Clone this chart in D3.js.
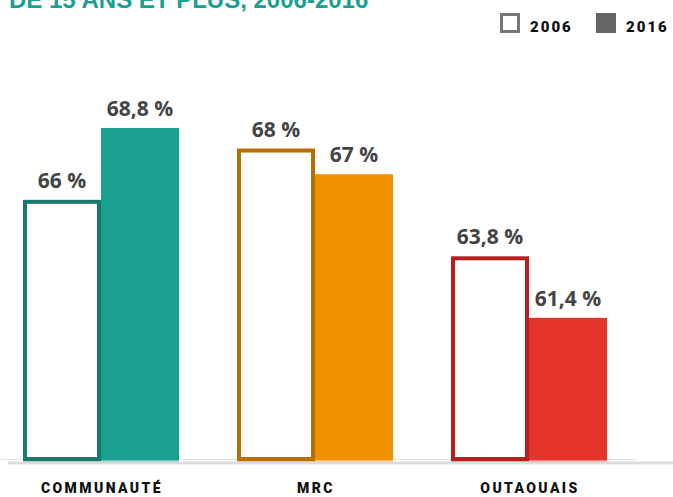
<!DOCTYPE html>
<html>
<head>
<meta charset="utf-8">
<script src="https://cdn.jsdelivr.net/npm/d3@7"></script>
<style>
	body { margin: 0; background: #fff; }
	svg { display: block; }
	.title { font-family: 'Liberation Sans', Arial, sans-serif; font-weight: bold; fill: #1aa090; }
	.value { font-family: 'Open Sans', sans-serif; font-weight: bold; fill: #444; }
	.category, .legend-text { font-family: Roboto, sans-serif; font-weight: 900; fill: #111; }
</style>
</head>
<body>
<svg id="chart" width="673" height="497"></svg>
<script>
// data
const categories = ['COMMUNAUTÉ', 'MRC', 'OUTAOUAIS'];
const years = ['2006', '2016'];
const values2006 = [66, 68, 63.8];
const values2016 = [68.8, 67, 61.4];
const valueLabels2006 = ['66 %', '68 %', '63,8 %'];
const valueLabels2016 = ['68,8 %', '67 %', '61,4 %'];
const fillColours = ['#1aa090', '#f09100', '#e5352b'];
const strokeColours = ['#177a6c', '#b86e00', '#b71f1f'];
const titleText = 'DE 15 ANS ET PLUS, 2006-2016';

const svg = d3.select('#chart');
const baseline = 459;

let rows = categories.map(function(category, i) {
	return {
		category: category,
		fill: fillColours[i],
		stroke: strokeColours[i],
		bars: [
			{ year: years[0], value: values2006[i], label: valueLabels2006[i] },
			{ year: years[1], value: values2016[i], label: valueLabels2016[i] }
		]
	};
});

let x0 = d3.scaleBand()
	.domain(categories)
	.range([23, 607])
	.paddingInner(0.271);

let x1 = d3.scaleBand()
	.domain(years)
	.range([0, x0.bandwidth()]);

let y = d3.scaleLinear()
	.domain([55.9, d3.max(values2016.concat(values2006))])
	.range([baseline, 128]);

// title (cut at the top, as in the source)
svg.append('text')
	.attr('class', 'title')
	.attr('x', 9)
	.attr('y', 8)
	.style('font-size', '24px')
	.text(titleText);

// axis lines
svg.append('line')
	.attr('x1', 0).attr('x2', 637)
	.attr('y1', baseline + 0.5).attr('y2', baseline + 0.5)
	.style('stroke', '#e2e2e2')
	.style('stroke-width', 1);

svg.append('line')
	.attr('x1', 8).attr('x2', 673)
	.attr('y1', baseline + 4).attr('y2', baseline + 4)
	.style('stroke', '#dcdcdc')
	.style('stroke-width', 3);

// bars
let groups = svg.selectAll('.group')
	.data(rows)
	.enter()
	.append('g')
	.attr('class', 'group')
	.attr('transform', function(d) { return 'translate(' + x0(d.category) + ',0)'; });

groups.each(function(row) {
	let g = d3.select(this);

	row.bars.forEach(function(bar, j) {
		let bx = x1(bar.year);
		let bw = x1.bandwidth();
		let top = y(bar.value);

		if (j == 0) {
			g.append('rect')
				.attr('x', bx + 2)
				.attr('y', top + 2)
				.attr('width', bw - 4)
				.attr('height', baseline - top - 2)
				.style('fill', '#fff')
				.style('stroke', row.stroke)
				.style('stroke-width', 4);
		} else {
			g.append('rect')
				.attr('x', bx)
				.attr('y', top)
				.attr('width', bw)
				.attr('height', baseline - top + 1)
				.style('fill', row.fill);
		}

		// thin coloured strip under each bar
		g.append('rect')
			.attr('x', bx)
			.attr('y', baseline + 1)
			.attr('width', bw)
			.attr('height', 1.5)
			.style('fill', j == 0 ? row.stroke : row.fill)
			.style('opacity', 0.6);

		g.append('text')
			.attr('class', 'value')
			.attr('x', bx + bw / 2)
			.attr('y', top - 12)
			.attr('text-anchor', 'middle')
			.style('font-size', '21px')
			.text(bar.label);
	});

	g.append('text')
		.attr('class', 'category')
		.attr('x', x0.bandwidth() / 2 + 1)
		.attr('y', 493)
		.attr('text-anchor', 'middle')
		.style('font-size', '14px')
		.style('letter-spacing', '2.4px')
		.text(row.category);
});

// legend
let legendX = [500, 596];
years.forEach(function(year, i) {
	svg.append('rect')
		.attr('x', legendX[i] + (i == 0 ? 1.5 : 0))
		.attr('y', 13 + (i == 0 ? 1.5 : 0))
		.attr('width', i == 0 ? 17 : 20)
		.attr('height', i == 0 ? 17 : 20)
		.style('fill', i == 0 ? '#fff' : '#666')
		.style('stroke', i == 0 ? '#777' : 'none')
		.style('stroke-width', 3);

	svg.append('text')
		.attr('class', 'legend-text')
		.attr('x', legendX[i] + 30)
		.attr('y', 32)
		.style('font-size', '15px')
		.style('letter-spacing', '2px')
		.text(year);
});
</script>
</body>
</html>
